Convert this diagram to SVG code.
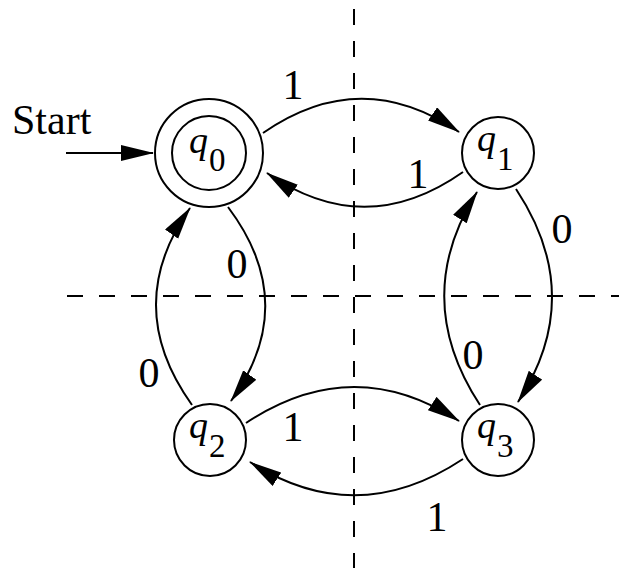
<svg xmlns="http://www.w3.org/2000/svg" width="619" height="568" viewBox="0 0 619 568">
<style>
.st{fill:#fff;stroke:#000;stroke-width:2}
.e{fill:none;stroke:#000;stroke-width:2;marker-end:url(#ah)}
.d{fill:none;stroke:#000;stroke-width:2;stroke-dasharray:16 16}
.t{font-family:"Liberation Serif","Times New Roman",serif;font-size:42px;fill:#000}
.q{font-family:"Liberation Serif","Times New Roman",serif;font-style:italic;font-size:38px;fill:#000}
.s{font-family:"Liberation Serif","Times New Roman",serif;font-size:33px;fill:#000}
.m{text-anchor:middle}
</style>
<defs>
<marker id="ah" markerUnits="userSpaceOnUse" markerWidth="33" markerHeight="17" refX="32" refY="8" orient="auto">
<path d="M0,0 L33,8 L0,16 Z" fill="#000"/>
</marker>
</defs>
<g id="guides">
<line class="d" x1="354" y1="9" x2="354" y2="568"/>
<line class="d" x1="67" y1="296" x2="619" y2="296"/>
</g>
<g id="connectors">
<path class="e" d="M66,153 L153,153"/>
<path class="e" d="M263,133 Q361,65 459,132"/>
<path class="e" d="M463,172 Q365,241 267,173"/>
<path class="e" d="M228,207 Q301,304 231,401"/>
<path class="e" d="M192,405 Q121,306 190,208"/>
<path class="e" d="M516,189 Q587,296 518,402"/>
<path class="e" d="M480,405 Q410,298 477,192"/>
<path class="e" d="M246,423 Q353,352 459,421"/>
<path class="e" d="M463,459 Q356,530 250,462"/>
</g>
<g id="labels">
<text class="t" x="12" y="134">Start</text>
<text class="t m" x="293" y="99">1</text>
<text class="t m" x="418" y="188">1</text>
<text class="t m" x="237" y="278">0</text>
<text class="t m" x="149" y="387">0</text>
<text class="t m" x="562" y="243">0</text>
<text class="t m" x="473" y="369">0</text>
<text class="t m" x="293" y="441">1</text>
<text class="t m" x="437" y="531">1</text>
</g>
<g id="q0">
<circle class="st" cx="209" cy="153" r="54"/>
<circle class="st" cx="209" cy="153" r="37"/>
<text class="q" x="189" y="153">q</text><text class="s" x="209" y="171">0</text>
</g>
<g id="q1">
<circle class="st" cx="498" cy="153" r="36"/>
<text class="q" x="477" y="151">q</text><text class="s" x="497" y="170">1</text>
</g>
<g id="q2">
<circle class="st" cx="210" cy="440" r="36"/>
<text class="q" x="189" y="438">q</text><text class="s" x="209" y="457">2</text>
</g>
<g id="q3">
<circle class="st" cx="498" cy="440" r="36"/>
<text class="q" x="477" y="438">q</text><text class="s" x="497" y="457">3</text>
</g>
</svg>
